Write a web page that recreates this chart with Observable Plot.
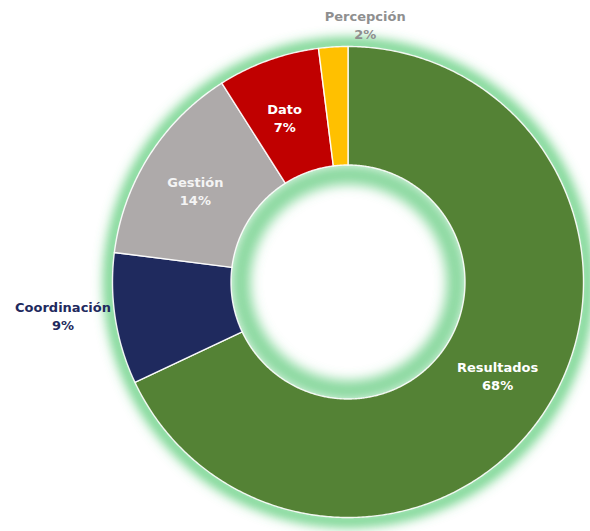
<!DOCTYPE html>
<html>
<head>
<meta charset="utf-8">
<script src="https://cdn.jsdelivr.net/npm/d3@7"></script>
<script src="https://cdn.jsdelivr.net/npm/@observablehq/plot@0.6"></script>
<style>
  html, body { margin: 0; padding: 0; background: #ffffff; }
  #chart svg { display: block; }
</style>
</head>
<body>
<div id="chart"></div>
<script>
// ---- data ----
const categories = ["Resultados", "Coordinación", "Gestión", "Dato", "Percepción"];
const values = [68, 9, 14, 7, 2];
const labels = ["Resultados\n68%", "Coordinación\n9%", "Gestión\n14%", "Dato\n7%", "Percepción\n2%"];

// ---- styles / layout ----
const colors = ["#548235", "#1F2A5E", "#AEAAAA", "#C00000", "#FFC000"];
const labelColors = ["#ffffff", "#1F2A5E", "#f4f4f4", "#ffffff", "#8f8f8f"];
const labelRadius = [0.75, 1.15, 0.75, 0.75, 1.1];
const labelDx = [0, -18, -4, -4, 33];
const labelDy = [-2, -10, 2, 1, 0];
const innerRatio = 117 / 235.5;

const total = d3.sum(values);
let acc = 0;
const slices = categories.map((name, i) => {
  const a0 = acc / total * 2 * Math.PI;
  acc += values[i];
  const a1 = acc / total * 2 * Math.PI;
  return {name, value: values[i], a0, a1, i};
});

// annular sector outlines computed from the values (angles clockwise from top)
const arcPoints = [];
for (const s of slices) {
  const n = Math.max(4, Math.ceil((s.a1 - s.a0) * 180 / Math.PI * 2));
  for (let k = 0; k <= n; k++) {
    const a = s.a0 + (s.a1 - s.a0) * k / n;
    arcPoints.push({
      name: s.name,
      xo: Math.sin(a), yo: Math.cos(a),
      xi: innerRatio * Math.sin(a), yi: innerRatio * Math.cos(a)
    });
  }
}

const labelData = slices.map(s => {
  const m = (s.a0 + s.a1) / 2;
  const r = labelRadius[s.i];
  return {text: labels[s.i], x: r * Math.sin(m), y: r * Math.cos(m), i: s.i};
});

const cx = 348, cy = 282, R = 235.5;
const font = "'DejaVu Sans', sans-serif";

const chart = Plot.plot({
  width: 590,
  height: 531,
  margin: 0,
  style: {background: "#ffffff", fontFamily: font},
  x: {domain: [-1, 1], range: [cx - R, cx + R], axis: null},
  y: {domain: [-1, 1], range: [cy + R, cy - R], axis: null},
  color: {domain: categories, range: colors},
  marks: [
    // outer glow
    Plot.dot([{x: 0, y: 0}], {x: "x", y: "y", r: R + 3, fill: "none", stroke: "#4cc86c", strokeWidth: 12, strokeOpacity: 0.85}),
    // inner glow
    Plot.dot([{x: 0, y: 0}], {x: "x", y: "y", r: R * innerRatio - 9, fill: "none", stroke: "#58c976", strokeWidth: 20, strokeOpacity: 0.7}),
    // slices
    Plot.area(arcPoints, {x1: "xo", y1: "yo", x2: "xi", y2: "yi", z: "name", fill: "name", stroke: "#ffffff", strokeWidth: 1.4, strokeOpacity: 0.9}),
    // labels
    ...labelData.map(d => Plot.text([d], {
      x: "x", y: "y", text: "text",
      dx: labelDx[d.i], dy: labelDy[d.i],
      fill: labelColors[d.i],
      fontSize: 13, fontWeight: "bold", lineHeight: 1.38,
      fontFamily: font
    }))
  ]
});

// blur filter for the glows
const svg = d3.select(chart);
const defs = svg.insert("defs", ":first-child");
defs.append("filter")
  .attr("id", "glowBlur")
  .attr("x", "-30%").attr("y", "-30%").attr("width", "160%").attr("height", "160%")
  .append("feGaussianBlur").attr("stdDeviation", 6);
svg.selectAll("g[aria-label='dot']").attr("filter", "url(#glowBlur)");

document.getElementById("chart").appendChild(chart);
</script>
</body>
</html>
